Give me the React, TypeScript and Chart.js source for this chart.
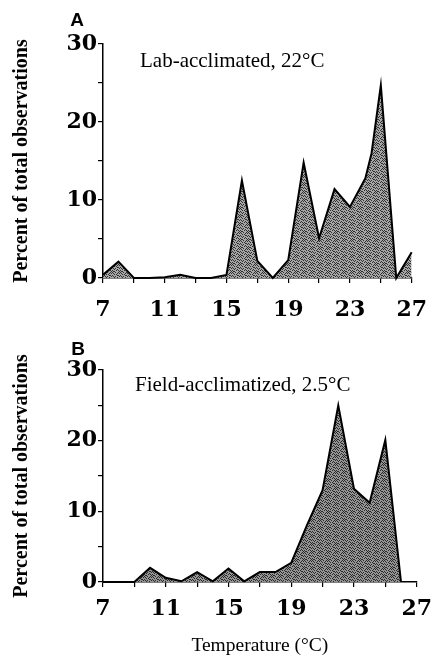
import { useEffect, useRef } from 'react';
import { Chart, registerables } from 'chart.js';

Chart.register(...registerables);

// Panel A: Lab-acclimated, 22°C
const tempsA = [7, 8, 9, 10, 11, 12, 13, 14, 15, 16, 17, 18, 19, 20, 21, 22, 23, 24, 24.4, 25, 26, 27];
const percentA = [0.4, 2.1, 0, 0, 0.1, 0.4, 0, 0, 0.4, 12.5, 2.2, 0, 2.3, 14.8, 5.1, 11.4, 9.1, 12.8, 16, 24.7, 0, 3.3];

// Panel B: Field-acclimatized, 2.5°C
const tempsB = [7, 8, 9, 10, 11, 12, 13, 14, 15, 16, 17, 18, 19, 20, 21, 22, 23, 24, 25, 26];
const percentB = [0, 0, 0, 2.0, 0.6, 0.1, 1.4, 0.1, 1.9, 0.1, 1.4, 1.4, 2.7, 8.0, 13.0, 25.0, 13.2, 11.2, 20.1, 0];

const xTickLabels = [7, 11, 15, 19, 23, 27];
const yTickLabels = [0, 10, 20, 30];

const titleA = 'Lab-acclimated, 22°C';
const titleB = 'Field-acclimatized, 2.5°C';
const yTitle = 'Percent of total observations';
const xTitle = 'Temperature (°C)';

// fixed stipple tile (8x8): 1 = dark dot
const stipple = [
  '10010010',
  '01000101',
  '00101000',
  '10000110',
  '01010001',
  '00100100',
  '10001010',
  '01100001',
];

function makePattern(base: string, dot: string) {
  const c = document.createElement('canvas');
  c.width = 8;
  c.height = 8;
  const g = c.getContext('2d')!;
  g.fillStyle = base;
  g.fillRect(0, 0, 8, 8);
  g.fillStyle = dot;
  stipple.forEach((row, y) => {
    for (let x = 0; x < row.length; x++) if (row[x] === '1') g.fillRect(x, y, 1, 1);
  });
  return g.createPattern(c, 'repeat');
}

type PanelProps = {
  temps: number[];
  values: number[];
  letter: string;
  letterPos: [number, number];
  note: string;
  notePos: [number, number];
  height: number;
  padTop: number;
  padRight: number;
  xAxisHeight: number;
  xTickPad: number;
  showXTitle: boolean;
  base: string;
  dot: string;
};

function Panel(p: PanelProps) {
  const ref = useRef<HTMLCanvasElement | null>(null);
  useEffect(() => {
    if (!ref.current) return;
    const textPlugin = {
      id: 'panelText',
      afterDraw(chart: any) {
        const ctx = chart.ctx;
        ctx.save();
        ctx.fillStyle = '#000';
        ctx.font = 'bold 19px "Liberation Sans", Arial, sans-serif';
        ctx.textAlign = 'center';
        ctx.textBaseline = 'middle';
        ctx.fillText(p.letter, p.letterPos[0], p.letterPos[1]);
        ctx.font = '21px "Liberation Serif", "Times New Roman", serif';
        ctx.textAlign = 'left';
        ctx.textBaseline = 'alphabetic';
        ctx.fillText(p.note, p.notePos[0], p.notePos[1]);
        ctx.restore();
      },
    };
    const chart = new Chart(ref.current, {
      type: 'line',
      data: {
        datasets: [
          {
            data: p.temps.map((t, i) => ({ x: t, y: p.values[i] })),
            borderColor: '#000',
            borderWidth: 2,
            borderJoinStyle: 'miter',
            backgroundColor: makePattern(p.base, p.dot) as any,
            fill: 'origin',
            tension: 0,
            pointRadius: 0,
            clip: false as any,
          },
        ],
      },
      options: {
        animation: false,
        responsive: false,
        maintainAspectRatio: false,
        layout: { padding: { top: p.padTop, right: p.padRight, left: 0, bottom: 0 } },
        plugins: { legend: { display: false }, tooltip: { enabled: false }, title: { display: false } },
        scales: {
          x: {
            type: 'linear',
            min: 7,
            max: 27,
            afterFit: (s: any) => {
              s.height = p.xAxisHeight;
            },
            ticks: {
              stepSize: 2,
              autoSkip: false,
              maxRotation: 0,
              padding: p.xTickPad,
              color: '#000',
              font: { family: '"DejaVu Serif", serif', weight: 'bold', size: 22 },
              callback: (v: any) => (xTickLabels.includes(Number(v)) ? String(v) : ''),
            },
            grid: { display: true, drawOnChartArea: false, drawTicks: true, tickLength: 5, color: '#000', lineWidth: 1.2 },
            border: { display: true, color: '#000', width: 1.5 },
            title: {
              display: p.showXTitle,
              text: xTitle,
              color: '#000',
              padding: { top: 0, bottom: 0 },
              font: { family: '"Liberation Serif", "Times New Roman", serif', size: 19.5 },
            },
          },
          y: {
            type: 'linear',
            min: 0,
            max: 30,
            afterFit: (s: any) => {
              s.width = 103;
            },
            ticks: {
              stepSize: 5,
              autoSkip: false,
              padding: 1,
              color: '#000',
              font: { family: '"DejaVu Serif", serif', weight: 'bold', size: 22 },
              callback: (v: any) => (yTickLabels.includes(Number(v)) ? String(v) : ''),
            },
            grid: { display: true, drawOnChartArea: false, drawTicks: true, tickLength: 5, color: '#000', lineWidth: 1.2 },
            border: { display: true, color: '#000', width: 1.5 },
            title: {
              display: true,
              text: yTitle,
              color: '#000',
              padding: { top: 10, bottom: 0 },
              font: { family: '"Liberation Serif", "Times New Roman", serif', weight: 'bold', size: 20 },
            },
          },
        },
      },
      plugins: [textPlugin],
    });
    return () => chart.destroy();
  }, []);
  return <canvas ref={ref} width={441} height={p.height} style={{ display: 'block', width: 441, height: p.height }} />;
}

export default function App() {
  return (
    <div style={{ position: 'absolute', left: 0, top: 0, width: 441, height: 658, background: '#fff' }}>
      <div style={{ position: 'absolute', left: 0, top: 0 }}>
        <Panel
          temps={tempsA}
          values={percentA}
          letter="A"
          letterPos={[77, 21]}
          note={titleA}
          notePos={[140, 67]}
          height={330}
          padTop={44}
          padRight={14}
          xAxisHeight={52}
          xTickPad={14}
          showXTitle={false}
          base="#a6a6a6"
          dot="#303030"
        />
      </div>
      <div style={{ position: 'absolute', left: 0, top: 320 }}>
        <Panel
          temps={tempsB}
          values={percentB}
          letter="B"
          letterPos={[78, 29.5]}
          note={titleB}
          notePos={[135, 71]}
          height={338}
          padTop={50}
          padRight={11}
          xAxisHeight={76}
          xTickPad={9}
          showXTitle={true}
          base="#959595"
          dot="#282828"
        />
      </div>
    </div>
  );
}
